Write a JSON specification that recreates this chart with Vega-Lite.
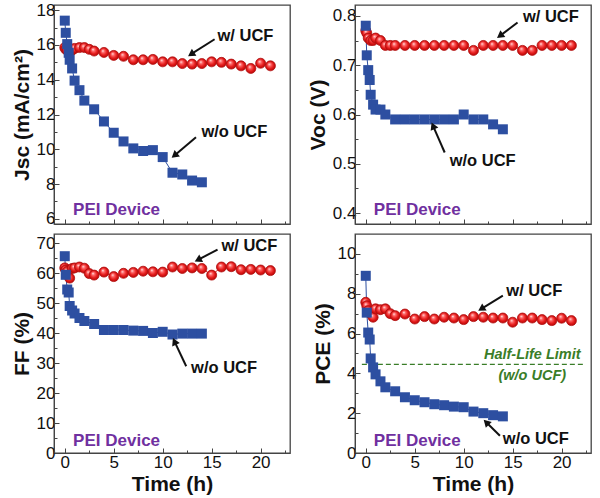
{
  "$schema": "https://vega.github.io/schema/vega-lite/v6.json",
  "padding": {"left": 10, "top": 0, "right": 0, "bottom": 0},
  "background": "white",
  "config": {
    "view": {"stroke": "#444", "strokeWidth": 1.3},
    "axis": {
      "labelFont": "Liberation Sans", "labelFontSize": 17, "labelColor": "#111",
      "titleFont": "Liberation Sans", "titleFontSize": 21, "titleFontWeight": "bold", "titleColor": "#111",
      "domainColor": "#444", "tickColor": "#444", "grid": false, "tickWidth": 1,
      "labelFlush": false, "labelOverlap": false, "labelBound": false
    },
    "text": {"font": "Liberation Sans"}
  },
  "datasets": {
    "blue": [
      {"t": 0, "jsc": 17.4, "voc": 0.78, "ff": 65.6, "pce": 8.9},
      {"t": 0.1, "jsc": 16.7, "voc": 0.72, "ff": 59.4, "pce": 7.05},
      {"t": 0.25, "jsc": 16.05, "voc": 0.69, "ff": 54.5, "pce": 6.05},
      {"t": 0.4, "jsc": 15.55, "voc": 0.67, "ff": 53.5, "pce": 5.7},
      {"t": 0.5, "jsc": 15.15, "voc": 0.64, "ff": 49, "pce": 4.75},
      {"t": 0.75, "jsc": 14.65, "voc": 0.62, "ff": 47.5, "pce": 4.3},
      {"t": 1, "jsc": 13.95, "voc": 0.61, "ff": 46.5, "pce": 3.95},
      {"t": 1.5, "jsc": 13.4, "voc": 0.61, "ff": 45, "pce": 3.6},
      {"t": 2, "jsc": 12.8, "voc": 0.6, "ff": 44, "pce": 3.3},
      {"t": 3, "jsc": 12.3, "voc": 0.59, "ff": 43, "pce": 3.1},
      {"t": 4, "jsc": 11.6, "voc": 0.59, "ff": 41, "pce": 2.8},
      {"t": 5, "jsc": 10.95, "voc": 0.59, "ff": 41, "pce": 2.65},
      {"t": 6, "jsc": 10.45, "voc": 0.59, "ff": 41, "pce": 2.55},
      {"t": 7, "jsc": 10.05, "voc": 0.59, "ff": 40.8, "pce": 2.45},
      {"t": 8, "jsc": 9.9, "voc": 0.59, "ff": 40.7, "pce": 2.4},
      {"t": 9, "jsc": 9.95, "voc": 0.59, "ff": 40, "pce": 2.33},
      {"t": 10, "jsc": 9.55, "voc": 0.6, "ff": 40.4, "pce": 2.3},
      {"t": 11, "jsc": 8.65, "voc": 0.59, "ff": 39.5, "pce": 2.08},
      {"t": 12, "jsc": 8.55, "voc": 0.59, "ff": 39.8, "pce": 2.0},
      {"t": 13, "jsc": 8.2, "voc": 0.58, "ff": 39.8, "pce": 1.9},
      {"t": 14, "jsc": 8.1, "voc": 0.57, "ff": 39.8, "pce": 1.84}
    ],
    "red": [
      {"t": 0, "jsc": 15.85, "voc": 0.77, "ff": 61.7, "pce": 7.57},
      {"t": 0.1, "jsc": 15.75, "voc": 0.765, "ff": 61, "pce": 7.4},
      {"t": 0.25, "jsc": 15.7, "voc": 0.755, "ff": 60.5, "pce": 7.15},
      {"t": 0.5, "jsc": 15.6, "voc": 0.75, "ff": 58.3, "pce": 7.0},
      {"t": 0.75, "jsc": 15.7, "voc": 0.75, "ff": 61.5, "pce": 6.82},
      {"t": 1, "jsc": 15.8, "voc": 0.755, "ff": 61.7, "pce": 7.24},
      {"t": 1.5, "jsc": 15.85, "voc": 0.75, "ff": 62, "pce": 7.2},
      {"t": 2, "jsc": 15.85, "voc": 0.74, "ff": 61.6, "pce": 7.24},
      {"t": 2.5, "jsc": 15.75, "voc": 0.74, "ff": 59.8, "pce": 7.0},
      {"t": 3, "jsc": 15.65, "voc": 0.74, "ff": 59.3, "pce": 6.9},
      {"t": 4, "jsc": 15.57, "voc": 0.74, "ff": 60.3, "pce": 6.98},
      {"t": 5, "jsc": 15.4, "voc": 0.74, "ff": 58.8, "pce": 6.73},
      {"t": 6, "jsc": 15.35, "voc": 0.74, "ff": 59.9, "pce": 6.85},
      {"t": 7, "jsc": 15.15, "voc": 0.74, "ff": 60.2, "pce": 6.73},
      {"t": 8, "jsc": 15.15, "voc": 0.74, "ff": 60.6, "pce": 6.82},
      {"t": 9, "jsc": 15.17, "voc": 0.74, "ff": 60.4, "pce": 6.78},
      {"t": 10, "jsc": 15.03, "voc": 0.74, "ff": 60.3, "pce": 6.7},
      {"t": 11, "jsc": 15.03, "voc": 0.73, "ff": 62, "pce": 6.85},
      {"t": 12, "jsc": 14.93, "voc": 0.74, "ff": 61.5, "pce": 6.82},
      {"t": 13, "jsc": 14.9, "voc": 0.74, "ff": 61.7, "pce": 6.78},
      {"t": 14, "jsc": 14.93, "voc": 0.74, "ff": 61.5, "pce": 6.78},
      {"t": 15, "jsc": 15.03, "voc": 0.74, "ff": 59.3, "pce": 6.57},
      {"t": 16, "jsc": 15.0, "voc": 0.73, "ff": 62, "pce": 6.78},
      {"t": 17, "jsc": 14.9, "voc": 0.73, "ff": 62.1, "pce": 6.78},
      {"t": 18, "jsc": 14.8, "voc": 0.74, "ff": 61.1, "pce": 6.7},
      {"t": 19, "jsc": 14.65, "voc": 0.74, "ff": 61.2, "pce": 6.65},
      {"t": 20, "jsc": 14.95, "voc": 0.74, "ff": 61, "pce": 6.77},
      {"t": 21, "jsc": 14.8, "voc": 0.74, "ff": 60.8, "pce": 6.65}
    ],
    "notes": [
      {"panel": "jsc", "kind": "w", "t": 15.6, "v": 16.53, "text": "w/ UCF"},
      {"panel": "jsc", "kind": "w", "t": 13.95, "v": 10.98, "text": "w/o UCF"},
      {"panel": "jsc", "kind": "pei", "t": 0.85, "v": 6.52, "text": "PEI Device"},
      {"panel": "voc", "kind": "w", "t": 16.05, "v": 0.797, "text": "w/ UCF"},
      {"panel": "voc", "kind": "w", "t": 8.57, "v": 0.506, "text": "w/o UCF"},
      {"panel": "voc", "kind": "pei", "t": 0.82, "v": 0.406, "text": "PEI Device"},
      {"panel": "ff", "kind": "w", "t": 16, "v": 68.9, "text": "w/ UCF"},
      {"panel": "ff", "kind": "w", "t": 12.9, "v": 28.3, "text": "w/o UCF"},
      {"panel": "ff", "kind": "pei", "t": 0.85, "v": 3.9, "text": "PEI Device"},
      {"panel": "pce", "kind": "w", "t": 14.35, "v": 8.16, "text": "w/ UCF"},
      {"panel": "pce", "kind": "w", "t": 14.0, "v": 0.7, "text": "w/o UCF"},
      {"panel": "pce", "kind": "pei", "t": 0.82, "v": 0.62, "text": "PEI Device"},
      {"panel": "pce", "kind": "half", "t": 17.0, "v": 4.9, "text": "Half-Life Limit"},
      {"panel": "pce", "kind": "half", "t": 17.0, "v": 3.85, "text": "(w/o UCF)"}
    ],
    "arrows": [
      {"panel": "jsc", "t": 15.3, "v": 16.33, "t2": 12.9, "v2": 15.47, "angle": 237},
      {"panel": "jsc", "t": 13.4, "v": 10.69, "t2": 11.2, "v2": 9.64, "angle": 230},
      {"panel": "voc", "t": 15.5, "v": 0.7865, "t2": 13.7, "v2": 0.7595, "angle": 234},
      {"panel": "voc", "t": 8.06, "v": 0.523, "t2": 6.87, "v2": 0.577, "angle": 336},
      {"panel": "ff", "t": 15.6, "v": 67.8, "t2": 13.6, "v2": 64.4, "angle": 243},
      {"panel": "ff", "t": 12.4, "v": 28.9, "t2": 11.2, "v2": 37.2, "angle": 335},
      {"panel": "pce", "t": 14.0, "v": 7.9, "t2": 11.8, "v2": 7.24, "angle": 238},
      {"panel": "pce", "t": 13.7, "v": 0.87, "t2": 12.3, "v2": 1.54, "angle": 315}
    ]
  },
  "columns": 2,
  "bounds": "flush",
  "spacing": {"row": 10, "column": 65},
  "concat": [
    {
      "width": 236, "height": 219,
      "encoding": {
        "x": {"field": "t", "type": "quantitative", "scale": {"domain": [-1.1, 23], "nice": false, "zero": false},
          "axis": {"values": [0, 2.5, 5, 7.5, 10, 12.5, 15, 17.5, 20, 22.5], "labels": false, "title": null,
            "tickSize": {"condition": {"test": "datum.value % 5 === 0", "value": -5}, "value": -3}}},
        "y": {"field": "v", "type": "quantitative", "scale": {"domain": [5.7, 18.3], "nice": false, "zero": false},
          "axis": {"values": [6, 7, 8, 9, 10, 11, 12, 13, 14, 15, 16, 17, 18], "title": "Jsc (mA/cm²)",
            "labelExpr": "datum.value % 2 === 0 ? datum.label : ''", "labelPadding": 4, "titlePadding": 4,
            "tickSize": {"condition": {"test": "datum.value % 2 === 0", "value": -5}, "value": -3}}}
      },
      "layer": [
        {"data": {"values": [{"t": 0}]}, "mark": {"type": "rule", "color": "#555", "strokeWidth": 1.3},
          "encoding": {"y": {"datum": 5.7}, "y2": {"datum": 18.3}}},
        {"data": {"name": "red"}, "transform": [{"fold": ["jsc"], "as": ["p", "v"]}],
          "mark": {"type": "line", "color": "#d62020", "strokeWidth": 1}},
        {"data": {"name": "blue"}, "transform": [{"fold": ["jsc"], "as": ["p", "v"]}],
          "mark": {"type": "line", "color": "#2d4fa1", "strokeWidth": 1}},
        {"data": {"name": "red"}, "transform": [{"fold": ["jsc"], "as": ["p", "v"]}],
          "mark": {"type": "point", "shape": "circle", "size": 100, "filled": true, "opacity": 1, "stroke": "#b01010", "strokeWidth": 0.8,
            "fill": {"gradient": "radial", "x1": 0.38, "y1": 0.32, "r1": 0, "x2": 0.5, "y2": 0.5, "r2": 0.55,
              "stops": [{"offset": 0, "color": "#ffffff"}, {"offset": 0.25, "color": "#ff7070"}, {"offset": 0.6, "color": "#e82020"}, {"offset": 1, "color": "#b00000"}]}}},
        {"data": {"name": "blue"}, "transform": [{"fold": ["jsc"], "as": ["p", "v"]}],
          "mark": {"type": "point", "shape": "square", "size": 100, "filled": true, "opacity": 1, "color": "#2d4fa1"}},
        {"data": {"name": "arrows"}, "transform": [{"filter": "datum.panel == 'jsc'"}],
          "mark": {"type": "rule", "color": "#111", "strokeWidth": 2},
          "encoding": {"x2": {"field": "t2"}, "y2": {"field": "v2"}}},
        {"data": {"name": "arrows"}, "transform": [{"filter": "datum.panel == 'jsc'"}],
          "mark": {"type": "point", "shape": "triangle-up", "size": 70, "filled": true, "opacity": 1, "color": "#111"},
          "encoding": {"x": {"field": "t2", "type": "quantitative"}, "y": {"field": "v2", "type": "quantitative"}, "angle": {"field": "angle", "type": "quantitative", "scale": null}}},
        {"data": {"name": "notes"}, "transform": [{"filter": "datum.panel == 'jsc' && datum.kind == 'w'"}],
          "mark": {"type": "text", "align": "left", "baseline": "middle", "fontSize": 16.5, "fontWeight": "bold", "color": "#111"},
          "encoding": {"text": {"field": "text"}}},
        {"data": {"name": "notes"}, "transform": [{"filter": "datum.panel == 'jsc' && datum.kind == 'pei'"}],
          "mark": {"type": "text", "align": "left", "baseline": "middle", "fontSize": 17, "fontWeight": "bold", "color": "#7030a0"},
          "encoding": {"text": {"field": "text"}}}
      ]
    },
    {
      "width": 236, "height": 219,
      "encoding": {
        "x": {"field": "t", "type": "quantitative", "scale": {"domain": [-1.1, 23], "nice": false, "zero": false},
          "axis": {"values": [0, 2.5, 5, 7.5, 10, 12.5, 15, 17.5, 20, 22.5], "labels": false, "title": null,
            "tickSize": {"condition": {"test": "datum.value % 5 === 0", "value": -5}, "value": -3}}},
        "y": {"field": "v", "type": "quantitative", "scale": {"domain": [0.378, 0.822], "nice": false, "zero": false},
          "axis": {"values": [0.4, 0.45, 0.5, 0.55, 0.6, 0.65, 0.7, 0.75, 0.8], "title": "Voc (V)", "format": ".1f",
            "labelExpr": "abs(datum.value * 10 - round(datum.value * 10)) < 0.01 ? datum.label : ''", "labelPadding": 4, "titlePadding": 4,
            "tickSize": {"condition": {"test": "abs(datum.value * 10 - round(datum.value * 10)) < 0.01", "value": -5}, "value": -3}}}
      },
      "layer": [
        {"data": {"values": [{"t": 0}]}, "mark": {"type": "rule", "color": "#555", "strokeWidth": 1.3},
          "encoding": {"y": {"datum": 0.378}, "y2": {"datum": 0.822}}},
        {"data": {"name": "red"}, "transform": [{"fold": ["voc"], "as": ["p", "v"]}],
          "mark": {"type": "line", "color": "#d62020", "strokeWidth": 1}},
        {"data": {"name": "blue"}, "transform": [{"fold": ["voc"], "as": ["p", "v"]}],
          "mark": {"type": "line", "color": "#2d4fa1", "strokeWidth": 1}},
        {"data": {"name": "red"}, "transform": [{"fold": ["voc"], "as": ["p", "v"]}],
          "mark": {"type": "point", "shape": "circle", "size": 100, "filled": true, "opacity": 1, "stroke": "#b01010", "strokeWidth": 0.8,
            "fill": {"gradient": "radial", "x1": 0.38, "y1": 0.32, "r1": 0, "x2": 0.5, "y2": 0.5, "r2": 0.55,
              "stops": [{"offset": 0, "color": "#ffffff"}, {"offset": 0.25, "color": "#ff7070"}, {"offset": 0.6, "color": "#e82020"}, {"offset": 1, "color": "#b00000"}]}}},
        {"data": {"name": "blue"}, "transform": [{"fold": ["voc"], "as": ["p", "v"]}],
          "mark": {"type": "point", "shape": "square", "size": 100, "filled": true, "opacity": 1, "color": "#2d4fa1"}},
        {"data": {"name": "arrows"}, "transform": [{"filter": "datum.panel == 'voc'"}],
          "mark": {"type": "rule", "color": "#111", "strokeWidth": 2},
          "encoding": {"x2": {"field": "t2"}, "y2": {"field": "v2"}}},
        {"data": {"name": "arrows"}, "transform": [{"filter": "datum.panel == 'voc'"}],
          "mark": {"type": "point", "shape": "triangle-up", "size": 70, "filled": true, "opacity": 1, "color": "#111"},
          "encoding": {"x": {"field": "t2", "type": "quantitative"}, "y": {"field": "v2", "type": "quantitative"}, "angle": {"field": "angle", "type": "quantitative", "scale": null}}},
        {"data": {"name": "notes"}, "transform": [{"filter": "datum.panel == 'voc' && datum.kind == 'w'"}],
          "mark": {"type": "text", "align": "left", "baseline": "middle", "fontSize": 16.5, "fontWeight": "bold", "color": "#111"},
          "encoding": {"text": {"field": "text"}}},
        {"data": {"name": "notes"}, "transform": [{"filter": "datum.panel == 'voc' && datum.kind == 'pei'"}],
          "mark": {"type": "text", "align": "left", "baseline": "middle", "fontSize": 17, "fontWeight": "bold", "color": "#7030a0"},
          "encoding": {"text": {"field": "text"}}}
      ]
    },
    {
      "width": 236, "height": 219,
      "encoding": {
        "x": {"field": "t", "type": "quantitative", "scale": {"domain": [-1.1, 23], "nice": false, "zero": false},
          "axis": {"values": [0, 2.5, 5, 7.5, 10, 12.5, 15, 17.5, 20, 22.5], "title": "Time (h)", "titleFontSize": 21,
            "labelExpr": "datum.value % 5 === 0 ? datum.label : ''", "labelPadding": 6, "titlePadding": 1,
            "tickSize": {"condition": {"test": "datum.value % 5 === 0", "value": -5}, "value": -3}}},
        "y": {"field": "v", "type": "quantitative", "scale": {"domain": [0, 73], "nice": false, "zero": false},
          "axis": {"values": [0, 5, 10, 15, 20, 25, 30, 35, 40, 45, 50, 55, 60, 65, 70], "title": "FF (%)",
            "labelExpr": "datum.value % 10 === 0 ? datum.label : ''", "labelPadding": 4, "titlePadding": 4,
            "tickSize": {"condition": {"test": "datum.value % 10 === 0", "value": -5}, "value": -3}}}
      },
      "layer": [
        {"data": {"values": [{"t": 0}]}, "mark": {"type": "rule", "color": "#555", "strokeWidth": 1.3},
          "encoding": {"y": {"datum": 0}, "y2": {"datum": 73}}},
        {"data": {"name": "red"}, "transform": [{"fold": ["ff"], "as": ["p", "v"]}],
          "mark": {"type": "line", "color": "#d62020", "strokeWidth": 1}},
        {"data": {"name": "blue"}, "transform": [{"fold": ["ff"], "as": ["p", "v"]}],
          "mark": {"type": "line", "color": "#2d4fa1", "strokeWidth": 1}},
        {"data": {"name": "red"}, "transform": [{"fold": ["ff"], "as": ["p", "v"]}],
          "mark": {"type": "point", "shape": "circle", "size": 100, "filled": true, "opacity": 1, "stroke": "#b01010", "strokeWidth": 0.8,
            "fill": {"gradient": "radial", "x1": 0.38, "y1": 0.32, "r1": 0, "x2": 0.5, "y2": 0.5, "r2": 0.55,
              "stops": [{"offset": 0, "color": "#ffffff"}, {"offset": 0.25, "color": "#ff7070"}, {"offset": 0.6, "color": "#e82020"}, {"offset": 1, "color": "#b00000"}]}}},
        {"data": {"name": "blue"}, "transform": [{"fold": ["ff"], "as": ["p", "v"]}],
          "mark": {"type": "point", "shape": "square", "size": 100, "filled": true, "opacity": 1, "color": "#2d4fa1"}},
        {"data": {"name": "arrows"}, "transform": [{"filter": "datum.panel == 'ff'"}],
          "mark": {"type": "rule", "color": "#111", "strokeWidth": 2},
          "encoding": {"x2": {"field": "t2"}, "y2": {"field": "v2"}}},
        {"data": {"name": "arrows"}, "transform": [{"filter": "datum.panel == 'ff'"}],
          "mark": {"type": "point", "shape": "triangle-up", "size": 70, "filled": true, "opacity": 1, "color": "#111"},
          "encoding": {"x": {"field": "t2", "type": "quantitative"}, "y": {"field": "v2", "type": "quantitative"}, "angle": {"field": "angle", "type": "quantitative", "scale": null}}},
        {"data": {"name": "notes"}, "transform": [{"filter": "datum.panel == 'ff' && datum.kind == 'w'"}],
          "mark": {"type": "text", "align": "left", "baseline": "middle", "fontSize": 16.5, "fontWeight": "bold", "color": "#111"},
          "encoding": {"text": {"field": "text"}}},
        {"data": {"name": "notes"}, "transform": [{"filter": "datum.panel == 'ff' && datum.kind == 'pei'"}],
          "mark": {"type": "text", "align": "left", "baseline": "middle", "fontSize": 17, "fontWeight": "bold", "color": "#7030a0"},
          "encoding": {"text": {"field": "text"}}}
      ]
    },
    {
      "width": 236, "height": 219,
      "encoding": {
        "x": {"field": "t", "type": "quantitative", "scale": {"domain": [-1.1, 23], "nice": false, "zero": false},
          "axis": {"values": [0, 2.5, 5, 7.5, 10, 12.5, 15, 17.5, 20, 22.5], "title": "Time (h)", "titleFontSize": 21,
            "labelExpr": "datum.value % 5 === 0 ? datum.label : ''", "labelPadding": 6, "titlePadding": 1,
            "tickSize": {"condition": {"test": "datum.value % 5 === 0", "value": -5}, "value": -3}}},
        "y": {"field": "v", "type": "quantitative", "scale": {"domain": [0, 11], "nice": false, "zero": false},
          "axis": {"values": [0, 1, 2, 3, 4, 5, 6, 7, 8, 9, 10], "title": "PCE (%)",
            "labelExpr": "datum.value % 2 === 0 ? datum.label : ''", "labelPadding": 4, "titlePadding": 4,
            "tickSize": {"condition": {"test": "datum.value % 2 === 0", "value": -5}, "value": -3}}}
      },
      "layer": [
        {"data": {"values": [{"t": 0}]}, "mark": {"type": "rule", "color": "#555", "strokeWidth": 1.3},
          "encoding": {"y": {"datum": 0}, "y2": {"datum": 11}}},
        {"data": {"values": [{"t": -0.4, "t2": 22.4, "v": 4.45}]}, "mark": {"type": "rule", "color": "#3a7d28", "strokeWidth": 1.2, "strokeDash": [5, 3]},
          "encoding": {"x2": {"field": "t2"}}},
        {"data": {"name": "red"}, "transform": [{"fold": ["pce"], "as": ["p", "v"]}],
          "mark": {"type": "line", "color": "#d62020", "strokeWidth": 1}},
        {"data": {"name": "blue"}, "transform": [{"fold": ["pce"], "as": ["p", "v"]}],
          "mark": {"type": "line", "color": "#2d4fa1", "strokeWidth": 1}},
        {"data": {"name": "red"}, "transform": [{"fold": ["pce"], "as": ["p", "v"]}],
          "mark": {"type": "point", "shape": "circle", "size": 100, "filled": true, "opacity": 1, "stroke": "#b01010", "strokeWidth": 0.8,
            "fill": {"gradient": "radial", "x1": 0.38, "y1": 0.32, "r1": 0, "x2": 0.5, "y2": 0.5, "r2": 0.55,
              "stops": [{"offset": 0, "color": "#ffffff"}, {"offset": 0.25, "color": "#ff7070"}, {"offset": 0.6, "color": "#e82020"}, {"offset": 1, "color": "#b00000"}]}}},
        {"data": {"name": "blue"}, "transform": [{"fold": ["pce"], "as": ["p", "v"]}],
          "mark": {"type": "point", "shape": "square", "size": 100, "filled": true, "opacity": 1, "color": "#2d4fa1"}},
        {"data": {"name": "arrows"}, "transform": [{"filter": "datum.panel == 'pce'"}],
          "mark": {"type": "rule", "color": "#111", "strokeWidth": 2},
          "encoding": {"x2": {"field": "t2"}, "y2": {"field": "v2"}}},
        {"data": {"name": "arrows"}, "transform": [{"filter": "datum.panel == 'pce'"}],
          "mark": {"type": "point", "shape": "triangle-up", "size": 70, "filled": true, "opacity": 1, "color": "#111"},
          "encoding": {"x": {"field": "t2", "type": "quantitative"}, "y": {"field": "v2", "type": "quantitative"}, "angle": {"field": "angle", "type": "quantitative", "scale": null}}},
        {"data": {"name": "notes"}, "transform": [{"filter": "datum.panel == 'pce' && datum.kind == 'w'"}],
          "mark": {"type": "text", "align": "left", "baseline": "middle", "fontSize": 16.5, "fontWeight": "bold", "color": "#111"},
          "encoding": {"text": {"field": "text"}}},
        {"data": {"name": "notes"}, "transform": [{"filter": "datum.panel == 'pce' && datum.kind == 'pei'"}],
          "mark": {"type": "text", "align": "left", "baseline": "middle", "fontSize": 17, "fontWeight": "bold", "color": "#7030a0"},
          "encoding": {"text": {"field": "text"}}},
        {"data": {"name": "notes"}, "transform": [{"filter": "datum.panel == 'pce' && datum.kind == 'half'"}],
          "mark": {"type": "text", "align": "center", "baseline": "middle", "fontSize": 14.5, "fontWeight": "bold", "fontStyle": "italic", "color": "#3a7d28"},
          "encoding": {"text": {"field": "text"}}}
      ]
    }
  ]
}
